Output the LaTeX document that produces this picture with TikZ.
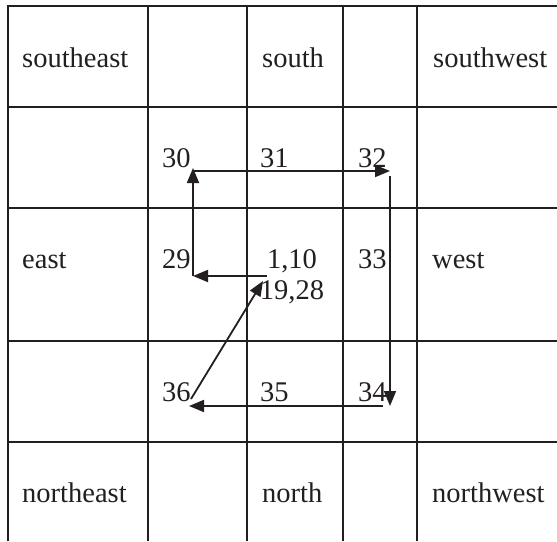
\documentclass[tikz,border=0pt]{standalone}
\usepackage{fontspec}
\setmainfont{Liberation Serif}
\usetikzlibrary{arrows.meta}
\definecolor{cink}{HTML}{231F20}
\tikzset{
  every picture/.style={x=1pt, y=-1pt, font=\fontsize{28.5}{31}\selectfont},
  gridline/.style={draw=cink, line width=2pt, line join=miter},
  txt/.style={anchor=base west, inner sep=0pt, text=cink},
  midtxt/.style={anchor=base, inner sep=0pt, text=cink},
  arrow/.style={-{Triangle[length=15pt, width=12pt]}, draw=cink, line width=1.8pt},
}

\begin{document}
\begin{tikzpicture}
  \useasboundingbox (0,0) rectangle (557,541);
  % grid
  \draw[gridline] (8,541) -- (8,6) -- (557,6);
  \foreach \x in {148,247,343,417} \draw[gridline] (\x,6) -- (\x,541);
  \foreach \y in {107,208,341,442} \draw[gridline] (8,\y) -- (557,\y);
  % directions
  \node[txt] (se) at (22,67) {southeast};
  \node[txt] (so) at (262,67) {south};
  \node[txt] (sw) at (433,67) {southwest};
  \node[txt] (ea) at (22,268) {east};
  \node[txt] (we) at (432,268) {west};
  \node[txt] (ne) at (22,502) {northeast};
  \node[txt] (no) at (262,502) {north};
  \node[txt] (nw) at (432,502) {northwest};
  % step numbers
  \node[txt] (n30) at (162,167) {30};
  \node[txt] (n31) at (260,167) {31};
  \node[txt] (n32) at (358,167) {32};
  \node[txt] (n29) at (162,268) {29};
  \node[midtxt] (n1) at (292,268) {1,10};
  \node[midtxt] (n19) at (292,299) {19,28};
  \node[txt] (n33) at (358,268) {33};
  \node[txt] (n36) at (162,401) {36};
  \node[txt] (n35) at (260,401) {35};
  \node[txt] (n34) at (358,401) {34};
  % spiral
  \coordinate (from1) at (267,276);
  \coordinate (at29) at (193,276);
  \coordinate (at30) at (193,168);
  \coordinate (at32) at (390,171);
  \coordinate (from32) at (390,176);
  \coordinate (at34) at (390,406);
  \coordinate (from34) at (383,406);
  \coordinate (at36) at (189,406);
  \coordinate (from36) at (191,399);
  \coordinate (at19) at (263,281);
  \draw[arrow] (from1) -- (at29);
  \draw[arrow] (at29) -- (at30);
  \draw[arrow] (at30 |- at32) -- (at32);
  \draw[arrow] (from32) -- (at34);
  \draw[arrow] (from34) -- (at36);
  \draw[arrow] (from36) -- (at19);
\end{tikzpicture}
\end{document}
